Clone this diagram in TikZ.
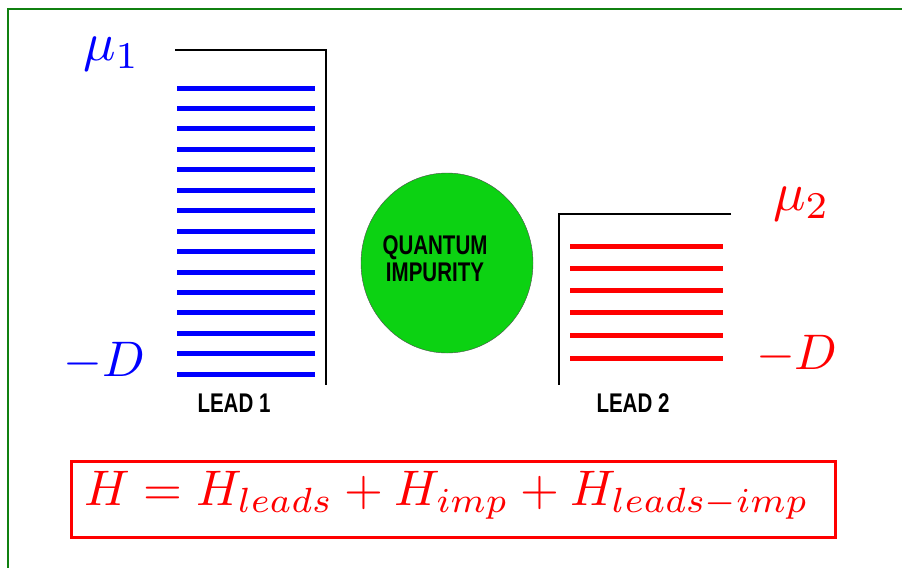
\documentclass[tikz,border=0pt]{standalone}
\usepackage{fontspec}
\usepackage{xcolor}
\usetikzlibrary{shapes.geometric}
\newfontfamily\leadfont[FakeStretch=0.76]{Liberation Sans}
\definecolor{framegreen}{RGB}{16,128,16}
\definecolor{impgreen}{RGB}{12,210,18}
\tikzset{wall/.style={draw=black,line width=1.5pt},
  level/.style={line width=5pt},
  leadlbl/.style={font=\leadfont\bfseries\fontsize{27}{27}\selectfont,inner sep=0pt,align=center},
  biglbl/.style={scale=5.0,inner sep=0pt},
  mulbl/.style={scale=5.4,inner sep=0pt}}

\begin{document}
\begin{tikzpicture}[x=1pt,y=-1pt]
\useasboundingbox (0,0) rectangle (902,568);
\draw[framegreen,line width=2.5pt] (902,9) -| (8,568);
% lead 1
\draw[wall] (175,50) -- (326,50) -- (326,385);
\foreach \i in {0,...,14}{\draw[level,blue] (177,{88+20.45*\i}) -- (315,{88+20.45*\i});}
\node[leadlbl] (lead1) at (234,403) {LEAD 1};
\node[mulbl,blue,anchor=base east] (mu1) at (141,60) {$\mu_1$};
\node[biglbl,blue,anchor=base east] (Dleft) at (146,376) {$-D$};
% impurity
\node[ellipse,draw=black!70,fill=impgreen,minimum width=172pt,minimum height=180pt,inner sep=0pt] (imp) at (447,263) {};
\node[leadlbl] (implbl) at (435,259) {QUANTUM\\IMPURITY};
% lead 2
\draw[wall] (731,214) -- (559,214) -- (559,385);
\foreach \y in {246,268,290,312,335,358}{\draw[level,red] (570,\y) -- (723,\y);}
\node[leadlbl] (lead2) at (633,403) {LEAD 2};
\node[mulbl,red,anchor=base west] (mu2) at (772,210) {$\mu_2$};
\node[biglbl,red,anchor=base west] (Dright) at (755,369) {$-D$};
% hamiltonian
\node[draw=red,line width=3pt,minimum width=764pt,minimum height=76pt,inner sep=0pt] (hambox) at (453.5,499.5) {};
\node[scale=5.0,red,anchor=base,inner sep=0pt] (ham) at (446.5,505) {$H = H_{leads} + H_{imp} + H_{leads-imp}$};
\end{tikzpicture}
\end{document}
